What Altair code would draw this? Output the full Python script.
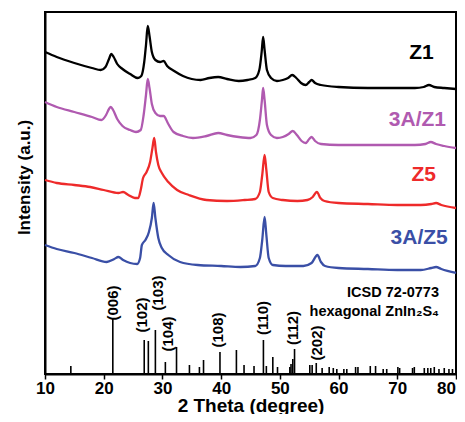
import altair as alt
import pandas as pd

# ---- data (2θ in degrees, intensity in arbitrary offset units) ----
z1_x = [10, 12, 15, 18, 19.5, 20.3, 20.9, 21.3, 21.7, 22.3, 23.2, 24.5, 25.8, 26.4, 26.9, 27.2, 27.5, 27.8, 28.2, 28.8, 29.6, 30.2, 30.8, 32, 33.5, 35, 36.5, 38, 39.5, 41, 43, 44.5, 45.8, 46.5, 46.9, 47.15, 47.4, 47.8, 48.5, 49.5, 50.5, 51.4, 52.1, 52.8, 53.6, 54.4, 55, 55.4, 56, 57, 60, 65, 70, 73, 74.5, 75.4, 76.3, 78, 80]
z1_y = [324, 319, 313, 308, 306, 309, 317, 322, 319, 312, 307, 302, 298, 300, 314, 331, 350, 340, 324, 316, 314, 315, 310, 305, 300, 297, 296, 298, 299, 297, 295, 296, 298, 306, 324, 339, 326, 306, 298, 295, 296, 298, 301, 298, 293, 291, 294, 296, 293, 291, 289, 288, 288, 288, 289, 291, 289, 288, 287]

a1_x = [10, 12, 15, 18, 19.6, 20.4, 20.9, 21.2, 21.6, 22.3, 23.2, 24.5, 25.5, 26.3, 26.8, 27.2, 27.5, 27.8, 28.2, 28.8, 29.6, 30.2, 31, 31.9, 33.5, 35.2, 37.5, 39.5, 41, 43, 45, 46, 46.6, 46.95, 47.15, 47.4, 47.8, 48.5, 49.5, 50.5, 51.5, 52.2, 52.9, 53.7, 54.4, 55, 55.4, 56, 57, 60, 65, 70, 73, 74.8, 75.7, 76.6, 78, 80]
a1_y = [274, 269, 264, 259, 256, 261, 267, 269, 266, 257, 250, 246, 244, 246, 261, 281, 297, 288, 272, 263, 260, 260, 252, 244, 240, 238, 240, 243, 241, 239, 238, 241, 256, 276, 288, 276, 251, 241, 238, 239, 242, 245, 241, 235, 233, 237, 239, 235, 232, 231, 231, 231, 231, 232, 234, 232, 230, 228]

z5_x = [10, 12, 15, 17.7, 20, 22.5, 23.3, 24.2, 25.3, 25.9, 26.3, 26.7, 27.3, 27.9, 28.3, 28.6, 28.9, 29.3, 29.9, 31, 32.5, 34.5, 37.5, 41, 44, 45.8, 46.6, 47.0, 47.4, 47.7, 48.1, 48.8, 50.5, 53, 54.7, 55.6, 56.3, 56.9, 57.6, 60, 65, 70, 74, 75.8, 76.6, 77.5, 80]
z5_y = [196, 193, 191, 189, 186, 183, 184, 181, 178, 178, 186, 198, 204, 214, 228, 238, 224, 211, 203, 194, 186, 181, 176, 175, 176, 177, 184, 201, 221, 206, 184, 178, 176, 175, 176, 179, 184, 178, 175, 173, 172, 171, 171, 172, 173, 171, 168]

a5_x = [10, 12, 15, 18, 20.5, 21.8, 22.5, 23.3, 24.5, 25.7, 26.2, 26.5, 27.1, 27.7, 28.2, 28.5, 28.8, 29.3, 29.9, 31, 33, 36, 40, 43.3, 45.8, 46.6, 47.0, 47.4, 47.7, 48.1, 48.8, 51, 54, 55.4, 56.4, 57.0, 57.7, 60, 65, 70, 74, 75.8, 76.6, 77.5, 80]
a5_y = [131, 127, 123, 118, 114, 117, 119, 116, 113, 112, 118, 131, 136, 144, 158, 173, 158, 138, 128, 121, 114, 111, 110, 109, 110, 118, 136, 159, 141, 118, 111, 110, 110, 113, 121, 114, 110, 108, 107, 106, 106, 108, 109, 107, 103]

series_names = ["Z1", "3A/Z1", "Z5", "3A/Z5"]
series_colors = ["#000000", "#b05ab0", "#ee2a2a", "#3a4fa6"]
label_colors = ["#000000", "#b35db5", "#e8262a", "#3b52a5"]

# reference pattern ICSD 72-0773 (peak position, relative intensity)
stick_x = [14.4, 21.55, 26.9, 27.6, 28.8, 30.5, 32.4, 34.6, 36.3, 37.0, 39.8, 42.6, 43.9, 45.6, 47.2, 47.7, 48.8, 49.6, 51.7, 51.9, 52.2, 52.5, 55.1, 55.5, 56.2, 57.2, 58.4, 59.1, 59.7, 60.9, 61.4, 62.9, 63.3, 65.4, 66.3, 67.6, 68.2, 70.1, 70.4, 72.6, 72.9, 74.6, 75.2, 75.7, 76.3, 77.1, 78.0, 78.8, 79.4]
stick_h = [8, 56, 34, 33, 44, 12, 27, 9, 7, 14, 22, 24, 9, 8, 34, 8, 17, 7, 7, 10, 15, 25, 9, 9, 11, 6, 7, 6, 5, 5, 5, 7, 7, 8, 8, 5, 5, 7, 6, 6, 7, 6, 6, 6, 7, 5, 6, 5, 5]
stick_base = 2

hkl_text = ["(006)", "(102)", "(103)", "(104)", "(108)", "(110)", "(112)", "(202)"]
hkl_x = [21.6, 26.5, 29.3, 31.0, 39.4, 47.2, 52.2, 56.3]
hkl_y = [73, 61, 83, 42, 46, 58, 48, 33]

ref_text = ["ICSD 72-0773", "hexagonal ZnIn\u2082S\u2084"]
ref_x = [77.1, 77.1]
ref_y = [83, 64]

lab_x = [76.2, 78.3, 76.6, 78.6]
lab_y = [323, 256, 201, 138]

# ---- build tables ----
rows = []
for name, xs_, ys_ in zip(series_names, [z1_x, a1_x, z5_x, a5_x], [z1_y, a1_y, z5_y, a5_y]):
    for i, (a, b) in enumerate(zip(xs_, ys_)):
        rows.append({"series": name, "x": a, "y": b, "i": i})
curves = pd.DataFrame(rows)
sticks = pd.DataFrame({"x": stick_x, "b": [stick_base] * len(stick_x),
                       "t": [stick_base + h for h in stick_h]})
hkl = pd.DataFrame({"t": hkl_text, "x": hkl_x, "y": hkl_y})
refl = pd.DataFrame({"t": ref_text, "x": ref_x, "y": ref_y})
labs = pd.DataFrame({"t": series_names, "x": lab_x, "y": lab_y})

FONT = "Liberation Sans"
xs = alt.Scale(domain=[10, 80], nice=False, zero=False)
ys = alt.Scale(domain=[2, 364], nice=False, zero=False)

xaxis = alt.Axis(
    values=list(range(10, 81, 5)),
    labelExpr="datum.value % 10 == 0 ? datum.label : ''",
    labelOffset={"condition": {"test": "datum.value == 80", "value": -10}, "value": 0},
    title="2 Theta (degree)", grid=False, tickSize=5, tickWidth=1.5,
    tickColor="black", domainColor="black", domainWidth=2,
    labelFont=FONT, labelFontWeight="bold", labelFontSize=17, labelColor="black",
    labelPadding=1, titleFont=FONT, titleFontWeight="bold", titleFontSize=19,
    titleColor="black", titleBaseline="alphabetic", titleY=37, labelFlush=False,
)
yaxis = alt.Axis(
    title="Intensity (a.u.)", labels=False, ticks=False, grid=False,
    domainColor="black", domainWidth=2, titleFont=FONT, titleFontWeight="bold",
    titleFontSize=17, titleColor="black", titlePadding=12, titleY=165,
)

lines = alt.Chart(curves).mark_line(strokeWidth=2.3, interpolate="monotone").encode(
    x=alt.X("x:Q", scale=xs, axis=xaxis),
    y=alt.Y("y:Q", scale=ys, axis=yaxis),
    color=alt.Color("series:N", scale=alt.Scale(domain=series_names, range=series_colors), legend=None),
    order="i:Q",
)

stk = alt.Chart(sticks).mark_rule(color="black", strokeWidth=1.6).encode(
    x=alt.X("x:Q", scale=xs), y=alt.Y("b:Q", scale=ys), y2="t:Q"
)

hkl_m = alt.Chart(hkl).mark_text(angle=270, align="center", baseline="middle",
                                font=FONT, fontWeight="bold", fontSize=15, color="black").encode(
    x=alt.X("x:Q", scale=xs), y=alt.Y("y:Q", scale=ys), text="t:N"
)

ref_m = alt.Chart(refl).mark_text(align="right", baseline="middle",
                                 font=FONT, fontWeight="bold", fontSize=14.5, color="black").encode(
    x=alt.X("x:Q", scale=xs), y=alt.Y("y:Q", scale=ys), text="t:N"
)

lab_m = alt.Chart(labs).mark_text(align="right", baseline="middle",
                                 font=FONT, fontWeight="bold", fontSize=21).encode(
    x=alt.X("x:Q", scale=xs), y=alt.Y("y:Q", scale=ys), text="t:N",
    color=alt.Color("t:N", scale=alt.Scale(domain=series_names, range=label_colors), legend=None),
)

chart = alt.layer(lines, stk, hkl_m, ref_m, lab_m).properties(
    width=411, height=362, autosize="none",
    padding={"left": 37, "top": 4, "right": 1, "bottom": 40},
).configure_view(stroke="black", strokeWidth=2)

chart.save("out.html", embed_options={"renderer": "svg", "actions": False})
